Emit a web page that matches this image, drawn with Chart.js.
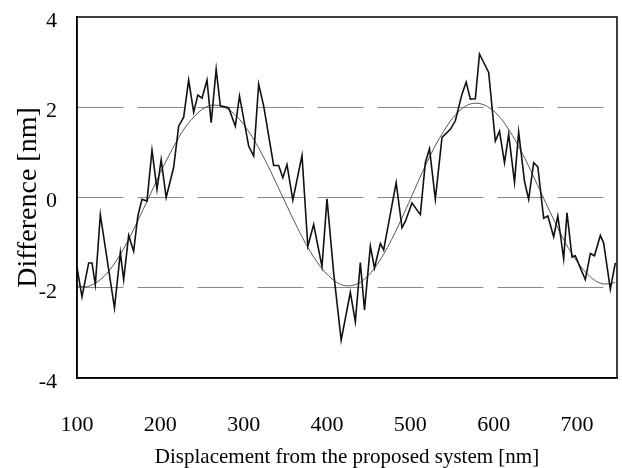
<!DOCTYPE html>
<html>
<head>
<meta charset="utf-8">
<script src="https://cdn.jsdelivr.net/npm/chart.js@4.4.1/dist/chart.umd.min.js"></script>
<style>
  body { margin: 0; background: #fff; }
</style>
</head>
<body>
<canvas id="myChart" width="622" height="468"></canvas>
<script>
'use strict';

// measured difference (noisy trace)
const noisyX = [100, 106, 114, 118, 122, 128, 145, 152, 156, 162, 168, 173, 178, 184, 190, 196, 201, 207,
  216, 222, 228, 234, 240, 245, 250, 256, 261, 267, 272, 282, 290, 295, 306, 312, 318, 324, 336, 342,
  347, 352, 359, 370, 377, 384, 394, 400, 408, 417, 428, 434, 440, 445, 452, 457, 464, 468, 483, 490,
  494, 502, 512, 518, 523, 530, 538, 548, 554, 562, 567, 572, 578, 583, 590, 594, 602, 607, 613, 618,
  625, 630, 637, 642, 648, 653, 660, 665, 672, 677, 684, 688, 694, 698, 704, 710, 716, 721, 728, 732,
  740, 746];
const noisyY = [-1.55, -2.2, -1.45, -1.45, -1.93, -0.38, -2.45, -1.22, -1.82, -0.84, -1.19, -0.41, -0.04, -0.08, 1.05, 0.18, 0.84, 0.0,
  0.67, 1.58, 1.78, 2.6, 1.89, 2.27, 2.2, 2.6, 1.66, 2.84, 2.03, 1.99, 1.58, 2.25, 1.14, 0.92, 2.51, 2.03, 0.71, 0.71,
  0.44, 0.73, -0.06, 0.93, -1.08, -0.6, -1.53, -0.03, -1.67, -3.16, -2.1, -2.75, -1.44, -2.49, -1.08, -1.56, -1.02, -1.16, 0.33, -0.67,
  -0.53, -0.12, -0.38, 0.77, 1.08, -0.04, 1.33, 1.51, 1.7, 2.29, 2.56, 2.18, 2.19, 3.18, 2.92, 2.77, 1.25, 1.47, 0.77, 1.4,
  0.34, 1.45, 0.36, -0.04, 0.77, 0.68, -0.46, -0.41, -0.87, -0.41, -1.36, -0.34, -1.32, -1.29, -1.56, -1.82, -1.24, -1.29, -0.84, -1.01,
  -2.03, -1.45];

// fitted curve
const fitX = [100, 110, 120, 130, 140, 150, 160, 170, 180, 190, 200, 210, 220, 230, 240, 250, 260, 270, 280, 290,
  300, 310, 320, 330, 340, 350, 360, 370, 380, 390, 400, 410, 420, 430, 440, 450, 460, 470, 480, 490,
  500, 510, 520, 530, 540, 550, 560, 570, 580, 590, 600, 610, 620, 630, 640, 650, 660, 670, 680, 690,
  700, 710, 720, 730, 740, 746];
const fitY = [-1.95, -1.98, -1.92, -1.79, -1.59, -1.32, -1.0, -0.63, -0.24, 0.15, 0.55, 0.92, 1.26, 1.56, 1.78, 1.95, 2.04, 2.04, 1.97, 1.83,
  1.62, 1.35, 1.03, 0.67, 0.28, -0.11, -0.5, -0.87, -1.2, -1.48, -1.7, -1.86, -1.95, -1.95, -1.88, -1.72, -1.49, -1.19, -0.84, -0.45,
  -0.04, 0.38, 0.78, 1.15, 1.47, 1.74, 1.94, 2.06, 2.09, 2.04, 1.92, 1.72, 1.45, 1.13, 0.77, 0.38, -0.02, -0.41, -0.79, -1.13,
  -1.42, -1.65, -1.82, -1.91, -1.91, -1.88];

const xTicks = [100, 200, 300, 400, 500, 600, 700];
const yTicks = [-4, -2, 0, 2, 4];

const serif = '"Liberation Serif", "Times New Roman", serif';

const ctx = document.getElementById('myChart');

// closed box round the plot area
const frame = {
  id: 'frame',
  afterDraw(chart) {
    const { ctx, chartArea: a } = chart;
    ctx.save();
    ctx.strokeStyle = '#000';
    ctx.lineWidth = 1.5;
    ctx.strokeRect(a.left, a.top, a.right - a.left, a.bottom - a.top);
    ctx.restore();
  }
};

new Chart(ctx, {
  type: 'line',
  data: {
    datasets: [
      {
        label: 'measured',
        data: noisyX.map((x, i) => ({ x: x, y: noisyY[i] })),
        borderColor: '#111',
        borderWidth: 1.6,
        pointRadius: 0,
        tension: 0
      },
      {
        label: 'fit',
        data: fitX.map((x, i) => ({ x: x, y: fitY[i] })),
        borderColor: '#555',
        borderWidth: 1,
        pointRadius: 0,
        tension: 0.3
      }
    ]
  },
  options: {
    responsive: false,
    animation: false,
    layout: { padding: { top: 17, right: 5, left: 0, bottom: 0 } },
    plugins: {
      legend: { display: false },
      tooltip: { enabled: false }
    },
    scales: {
      x: {
        type: 'linear',
        min: 100,
        max: 748,
        afterBuildTicks: s => { s.ticks = xTicks.map(v => ({ value: v })); },
        afterFit: s => { s.height = 90; s.paddingLeft = 0; s.paddingRight = 0; },
        grid: { display: false, drawTicks: false },
        border: { display: true, color: '#000', width: 1.5 },
        ticks: { padding: 34, color: '#000', maxRotation: 0, font: { family: serif, size: 22 } },
        title: {
          display: true,
          text: 'Displacement from the proposed system [nm]',
          color: '#000',
          font: { family: serif, size: 21, lineHeight: 1 },
          padding: { top: 8, bottom: 0.5 }
        }
      },
      y: {
        min: -4,
        max: 4,
        afterBuildTicks: s => { s.ticks = yTicks.map(v => ({ value: v })); },
        afterFit: s => { s.width = 77; s.paddingTop = 0; s.paddingBottom = 0; },
        grid: {
          color: c => (c.tick && Math.abs(c.tick.value) === 4) ? 'rgba(0,0,0,0)' : '#8a8a8a',
          lineWidth: 1,
          drawTicks: false
        },
        border: { display: true, color: '#000', width: 1.5, dash: [46, 14] },
        ticks: { padding: 20, labelOffset: 4, color: '#000', font: { family: serif, size: 22 } },
        title: {
          display: true,
          text: 'Difference [nm]',
          color: '#000',
          font: { family: serif, size: 28, lineHeight: 1 },
          padding: { top: 15, bottom: 0 }
        }
      }
    }
  },
  plugins: [frame]
});
</script>
</body>
</html>
